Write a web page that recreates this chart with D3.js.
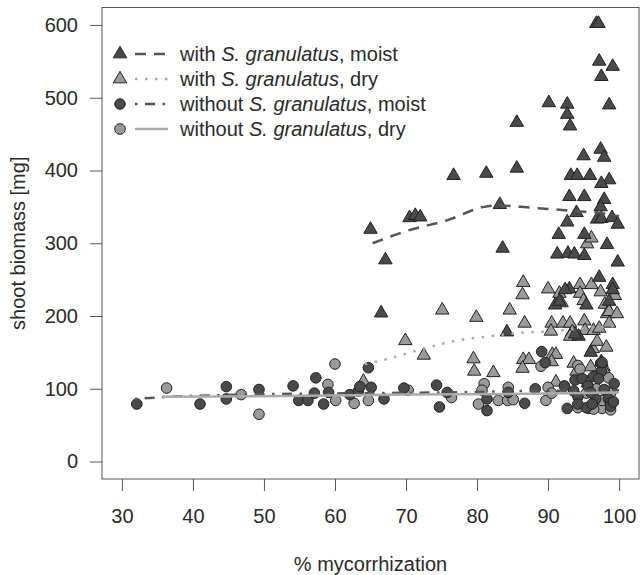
<!DOCTYPE html>
<html>
<head>
<meta charset="utf-8">
<script src="https://cdn.jsdelivr.net/npm/d3@7"></script>
<style>
  body { margin: 0; background: #fff; }
  text { font-family: "Liberation Sans", Arial, sans-serif; fill: #2a2a2a; }
</style>
</head>
<body>
<div id="chart"></div>
<script>
// data: [% mycorrhization, shoot biomass mg]
const withMoist = [
    [65.0, 319], [67.1, 277], [66.5, 204], [70.5, 335], [71.3, 338], [72.0, 336],
    [76.7, 393], [81.3, 396], [83.2, 353], [83.6, 293], [85.6, 403], [85.6, 466],
    [84.2, 178], [90.1, 493], [92.7, 491], [92.7, 477], [93.1, 461], [96.8, 602],
    [97.1, 602], [97.2, 550], [97.5, 529], [99.1, 543], [98.6, 490], [95.0, 420],
    [93.2, 393], [94.1, 393], [95.9, 393], [97.4, 429], [97.9, 418], [98.6, 387],
    [97.5, 382], [93.0, 364], [95.1, 364], [97.9, 360], [97.4, 350], [94.0, 342],
    [92.7, 329], [96.9, 333], [97.5, 334], [99.0, 335], [99.8, 326], [91.5, 312],
    [95.1, 312], [91.3, 285], [92.8, 286], [93.7, 285], [95.1, 283], [98.3, 298],
    [99.8, 274], [97.2, 253], [93.0, 237], [92.4, 236], [91.0, 215], [91.6, 220],
    [99.1, 243], [99.1, 236], [95.4, 215], [94.3, 172], [93.8, 175], [96.0, 150],
    [97.5, 137], [98.6, 220]
];
const withDry = [
    [64.0, 110], [69.9, 166], [72.5, 146], [75.1, 208], [79.9, 198], [79.5, 141],
    [79.6, 124], [82.3, 122], [84.6, 208], [86.5, 246], [86.4, 229], [86.7, 190],
    [86.5, 140], [87.3, 140], [86.4, 128], [90.0, 237], [90.5, 190], [90.4, 179],
    [90.6, 147], [91.1, 147], [90.5, 137], [91.1, 109], [91.6, 231], [91.9, 218],
    [92.1, 190], [93.1, 190], [93.4, 178], [93.1, 172], [93.6, 135], [94.0, 124],
    [94.5, 243], [94.5, 231], [95.0, 221], [95.1, 193], [95.2, 180], [96.1, 243],
    [96.3, 155], [95.5, 299], [96.1, 307], [96.4, 180], [96.9, 165], [97.2, 183],
    [97.4, 233], [98.0, 216], [98.3, 203], [98.6, 190], [98.2, 157], [98.6, 206],
    [99.4, 228], [99.7, 203], [96.0, 130], [97.8, 130], [98.2, 120], [95.6, 108]
];
const withoutMoist = [
    [32.1, 79], [41.0, 79], [44.7, 103], [44.7, 86], [49.3, 99], [54.1, 104],
    [54.9, 84], [56.2, 84], [57.3, 115], [57.1, 94], [58.4, 79], [59.1, 95],
    [62.1, 92], [63.3, 97], [63.5, 103], [64.7, 129], [65.1, 102], [66.9, 86],
    [69.7, 101], [74.3, 105], [74.7, 75], [75.8, 95], [81.4, 86], [81.4, 70],
    [84.4, 95], [86.7, 80], [88.2, 100], [89.1, 151], [89.6, 136], [92.3, 104],
    [92.7, 73], [93.6, 97], [93.8, 112], [94.2, 89], [94.8, 114], [95.4, 74],
    [95.6, 104], [96.4, 117], [96.7, 86], [97.4, 135], [97.5, 124], [97.1, 114],
    [97.9, 99], [98.5, 86], [98.8, 81], [99.3, 107], [98.8, 76], [96.2, 79],
    [94.2, 79], [99.2, 82], [97.6, 136], [96.0, 95]
];
const withoutDry = [
    [36.3, 101], [46.8, 92], [49.3, 65], [59.0, 106], [60.0, 134], [60.1, 84],
    [62.7, 80], [64.7, 84], [70.3, 98], [76.4, 88], [80.2, 79], [81.0, 107],
    [80.7, 98], [83.0, 84], [84.4, 102], [84.3, 84], [85.1, 85], [89.0, 131],
    [89.7, 84], [90.0, 102], [90.5, 94], [94.2, 74], [94.2, 132], [94.5, 127],
    [95.7, 73], [97.6, 73], [95.4, 94], [98.5, 115], [98.8, 94], [98.8, 71],
    [96.4, 72], [96.8, 100], [97.6, 84]
];

// smoother curves
const lineWithMoist = [[65.3, 300], [70.1, 317], [75.9, 332], [81.0, 350], [83.3, 352],
    [86.2, 350], [90.2, 347], [94.2, 344], [97.1, 342], [100, 337]];
const lineWithDry = [[64.2, 134], [67.8, 142], [72.4, 155], [77.0, 166], [81.6, 172],
    [86.2, 177], [90.3, 179], [95.0, 183], [100, 187]];
const lineWithoutMoist = [[31.8, 86], [36.9, 89], [47.2, 92], [64.4, 94], [75.9, 95],
    [87.3, 97], [100, 98]];
const lineWithoutDry = [[35.7, 89], [52.9, 90], [70.1, 92], [87.3, 93], [100, 95]];

const xTicks = [30, 40, 50, 60, 70, 80, 90, 100];
const yTicks = [0, 100, 200, 300, 400, 500, 600];

const darkFill = "#4a4a4a", lightFill = "#9a9a9a", outline = "#222";
const darkLine = "#555", lightLine = "#aaa";

const width = 640, height = 575;
const plotLeft = 102, plotRight = 639, plotTop = 7.5, plotBottom = 479;

const svg = d3.select("#chart").append("svg")
    .attr("width", width)
    .attr("height", height);

const x = d3.scaleLinear().domain([27.2, 102.8]).range([plotLeft, plotRight]);
const y = d3.scaleLinear().domain([-24, 624]).range([plotBottom, plotTop]);

// axes
const yAxis = svg.append("g")
    .attr("transform", `translate(${plotLeft},0)`)
    .call(d3.axisLeft(y).tickValues(yTicks).tickSize(12).tickPadding(12));
const xAxis = svg.append("g")
    .attr("transform", `translate(0,${plotBottom})`)
    .call(d3.axisBottom(x).tickValues(xTicks).tickSize(12).tickPadding(18));
[xAxis, yAxis].forEach(a => {
    a.select(".domain").remove();
    a.selectAll("line").attr("stroke", "#555");
    a.selectAll("text").style("font-size", "20px").attr("fill", "#2a2a2a");
});

svg.append("rect")
    .attr("x", plotLeft).attr("y", plotTop)
    .attr("width", plotRight - plotLeft).attr("height", plotBottom - plotTop)
    .attr("fill", "none").attr("stroke", "#555");

svg.append("text")
    .attr("x", (plotLeft + plotRight) / 2).attr("y", 571)
    .style("text-anchor", "middle").style("font-size", "20px")
    .text("% mycorrhization");

svg.append("text")
    .attr("transform", `translate(25,${(plotTop + plotBottom) / 2}) rotate(-90)`)
    .style("text-anchor", "middle").style("font-size", "20px")
    .text("shoot biomass [mg]");

// points
const tri = d3.symbol().type(d3.symbolTriangle).size(78);

function triangles(data, fill) {
    svg.append("g").selectAll("path")
        .data(data)
        .enter().append("path")
        .attr("d", tri)
        .attr("transform", d => `translate(${x(d[0])},${y(d[1])})`)
        .attr("fill", fill)
        .attr("stroke", outline)
        .attr("stroke-width", 1);
}

function circles(data, fill) {
    svg.append("g").selectAll("circle")
        .data(data)
        .enter().append("circle")
        .attr("cx", d => x(d[0]))
        .attr("cy", d => y(d[1]))
        .attr("r", 5.3)
        .attr("fill", fill)
        .attr("stroke", outline)
        .attr("stroke-width", 1);
}

triangles(withDry, lightFill);
triangles(withMoist, darkFill);
circles(withoutDry, lightFill);
circles(withoutMoist, darkFill);

// smoothers
const line = d3.line().x(d => x(d[0])).y(d => y(d[1])).curve(d3.curveMonotoneX);
const styles = [
    { data: lineWithMoist, color: darkLine, dash: "11,8" },
    { data: lineWithDry, color: lightLine, dash: "2.5,7.5" },
    { data: lineWithoutMoist, color: darkLine, dash: "2.5,7.5,10,7.5" },
    { data: lineWithoutDry, color: lightLine, dash: null }
];
styles.forEach(s => {
    svg.append("path")
        .attr("d", line(s.data))
        .attr("fill", "none")
        .attr("stroke", s.color)
        .attr("stroke-width", 2.5)
        .attr("stroke-dasharray", s.dash);
});

// legend
const legendItems = [
    { shape: "tri", fill: darkFill, color: darkLine, dash: "11,8", pre: "with ", post: ", moist" },
    { shape: "tri", fill: lightFill, color: lightLine, dash: "2.5,7.5", pre: "with ", post: ", dry" },
    { shape: "circle", fill: darkFill, color: darkLine, dash: "2.5,7.5,10,7.5", pre: "without ", post: ", moist" },
    { shape: "circle", fill: lightFill, color: lightLine, dash: null, pre: "without ", post: ", dry" }
];
legendItems.forEach((item, i) => {
    const g = svg.append("g").attr("transform", `translate(0,${54 + i * 25})`);
    if (item.shape === "tri") {
        g.append("path").attr("d", tri).attr("transform", "translate(120,0)")
            .attr("fill", item.fill).attr("stroke", outline);
    } else {
        g.append("circle").attr("cx", 120).attr("cy", 0).attr("r", 5.3)
            .attr("fill", item.fill).attr("stroke", outline);
    }
    g.append("line").attr("x1", 135).attr("x2", 168).attr("y1", 0).attr("y2", 0)
        .attr("stroke", item.color).attr("stroke-width", 2.5)
        .attr("stroke-dasharray", item.dash);
    const t = g.append("text").attr("x", 180).attr("dy", "0.35em").style("font-size", "20px");
    t.append("tspan").text(item.pre);
    t.append("tspan").style("font-style", "italic").text("S. granulatus");
    t.append("tspan").text(item.post);
});
</script>
</body>
</html>
